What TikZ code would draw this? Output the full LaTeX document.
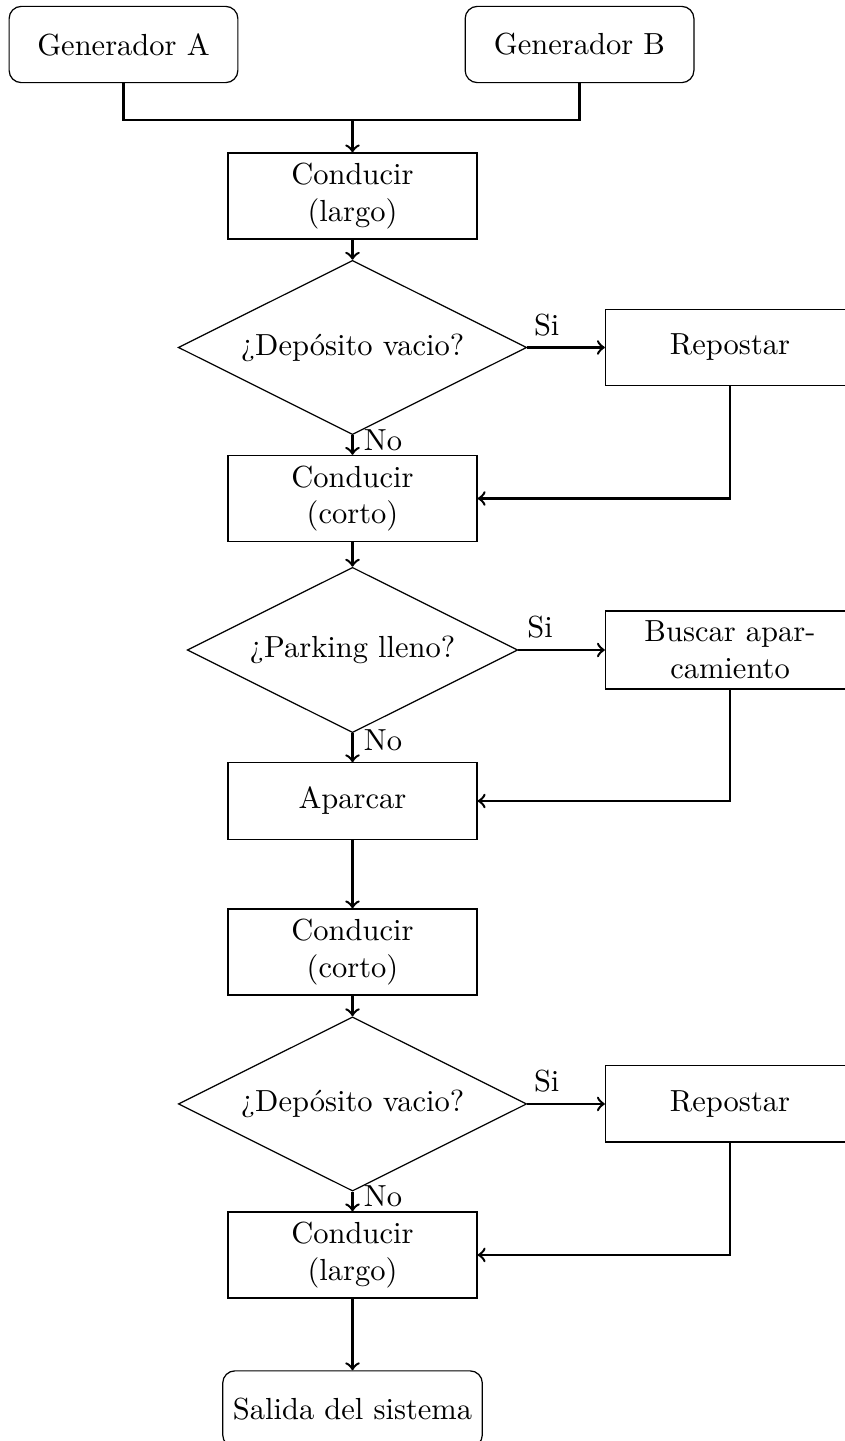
\documentclass[tikz,border=0pt]{standalone}
\usepackage{tikz}
\usetikzlibrary{shapes.geometric}

\begin{document}
\begin{tikzpicture}[>=to,
    proceso/.style={rectangle, draw, text width=7.5em, align=center, minimum height=2.5em},
    decision/.style={diamond, draw, aspect=2, inner sep=3.8pt},
    extremo/.style={rectangle, rounded corners, draw, minimum width=7.5em, minimum height=2.5em},
    flecha/.style={->, thick}]
  \useasboundingbox (0,0) rectangle (9.737,-16.605);
  % entradas
  \node[extremo] (gena) at (1.423,-0.513) {Generador A};
  \node[extremo] (genb) at (6.678,-0.513) {Generador B};
  \coordinate (union) at (4.062,-1.383);
  % columna principal
  \node[proceso] (cond1) at (4.062,-2.259) {Conducir\\(largo)};
  \node[decision] (dep1) at (4.062,-4.004) {¿Depósito vacio?};
  \node[proceso] (cond2) at (4.062,-5.744) {Conducir\\(corto)};
  \node[decision] (park) at (4.062,-7.490) {¿Parking lleno?};
  \node[proceso] (apar) at (4.062,-9.230) {Aparcar};
  \node[proceso] (cond3) at (4.062,-10.970) {Conducir\\(corto)};
  \node[decision] (dep2) at (4.062,-12.721) {¿Depósito vacio?};
  \node[proceso] (cond4) at (4.062,-14.461) {Conducir\\(largo)};
  \node[extremo] (salida) at (4.062,-16.236) {Salida del sistema};
  % columna derecha
  \node[proceso] (rep1) at (8.412,-4.004) {Repostar};
  \node[proceso] (buscar) at (8.412,-7.490) {Buscar apar-\\camiento};
  \node[proceso] (rep2) at (8.412,-12.721) {Repostar};

  \draw[thick] (gena.south) |- (union) -| (genb.south);
  \draw[flecha] (union) -- (cond1);
  \draw[flecha] (cond1) -- (dep1);
  \draw[flecha] (dep1) -- node[near start, above] {Si} (rep1);
  \draw[flecha] (dep1) -- node[near start, right] {No} (cond2);
  \draw[flecha] (rep1) |- (cond2);
  \draw[flecha] (cond2) -- (park);
  \draw[flecha] (park) -- node[near start, above] {Si} (buscar);
  \draw[flecha] (park) -- node[near start, right] {No} (apar);
  \draw[flecha] (buscar) |- (apar);
  \draw[flecha] (apar) -- (cond3);
  \draw[flecha] (cond3) -- (dep2);
  \draw[flecha] (dep2) -- node[near start, above] {Si} (rep2);
  \draw[flecha] (dep2) -- node[near start, right] {No} (cond4);
  \draw[flecha] (rep2) |- (cond4);
  \draw[flecha] (cond4) -- (salida);
\end{tikzpicture}
\end{document}
